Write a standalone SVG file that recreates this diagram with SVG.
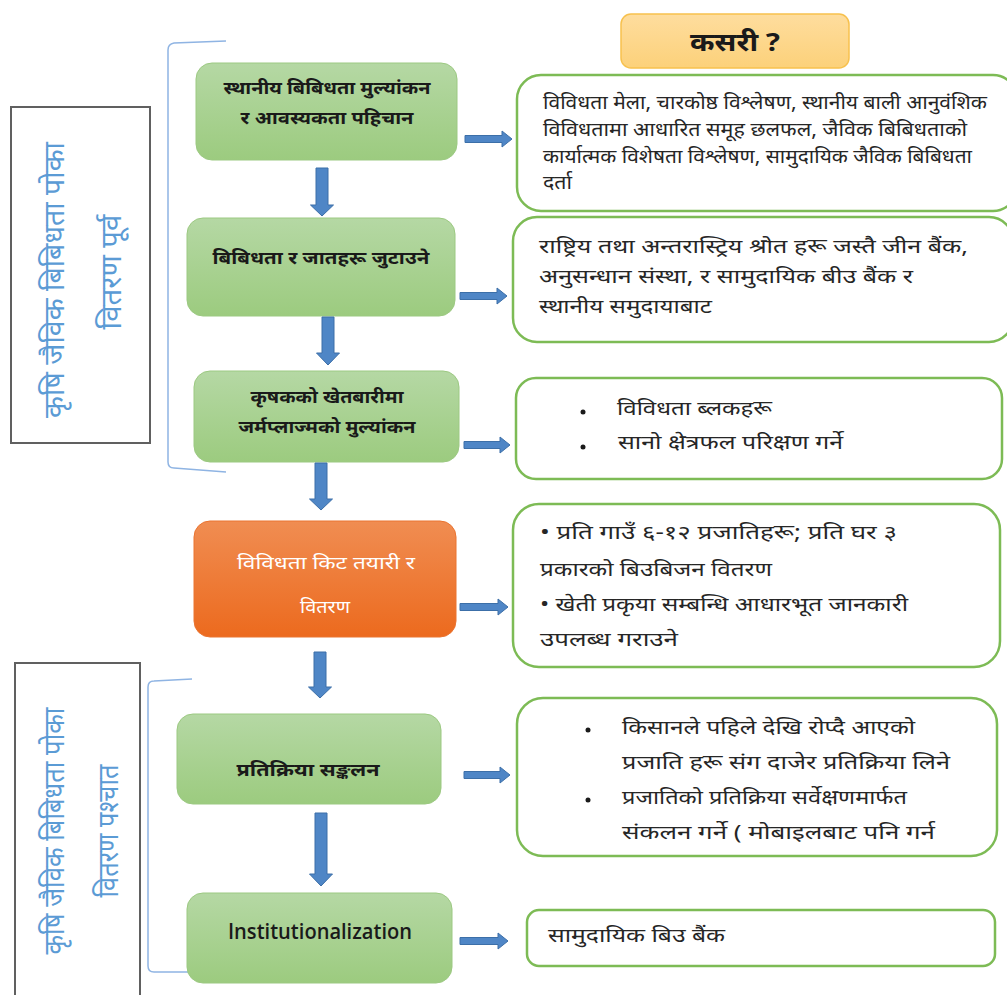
<svg xmlns="http://www.w3.org/2000/svg" width="1007" height="995" viewBox="0 0 1007 995">
<style>
  .t{font-family:"Noto Sans","Liberation Sans",sans-serif;font-size:19px;fill:#262626}
  .nb{font-family:"Noto Sans","Liberation Sans",sans-serif;font-size:18px;fill:#1a1a1a;font-weight:bold}
  .nw{font-family:"Noto Sans","Liberation Sans",sans-serif;font-size:18px;fill:#ffffff}
  .side{font-family:"Noto Sans","Liberation Sans",sans-serif;font-size:28px;fill:#5b9bd5}
  .gbox{fill:url(#gg);stroke:#9cc982;stroke-width:1}
  .obox{fill:url(#og);stroke:#ea7431;stroke-width:1}
  .rbox{fill:#fff;stroke:#7dbb55;stroke-width:2.5}
  .sbox{fill:#fff;stroke:#606060;stroke-width:2}
  .br{fill:none;stroke:#8fb4e3;stroke-width:1.5}
  .arr{fill:#4f86c6;stroke:#3c6fa8;stroke-width:1}
  .dot{fill:#1a1a1a}
</style>
<defs>
  <linearGradient id="gg" x1="0" y1="0" x2="0" y2="1">
    <stop offset="0" stop-color="#b5d8a4"/>
    <stop offset="1" stop-color="#9ccb7f"/>
  </linearGradient>
  <linearGradient id="og" x1="0" y1="0" x2="0" y2="1">
    <stop offset="0" stop-color="#f08d52"/>
    <stop offset="1" stop-color="#ec6a1e"/>
  </linearGradient>
  <linearGradient id="yg" x1="0" y1="0" x2="0" y2="1">
    <stop offset="0" stop-color="#fedd9e"/>
    <stop offset="1" stop-color="#fcd17a"/>
  </linearGradient>
</defs>
<rect width="1007" height="995" fill="#ffffff"/>

<g id="side-pre">
  <rect class="sbox" x="11" y="107" width="139" height="336"/>
  <text class="side" transform="translate(64,280) rotate(-90)" text-anchor="middle" textLength="276" lengthAdjust="spacingAndGlyphs">कृषि जैविक बिबिधता पोका</text>
  <text class="side" transform="translate(121,272) rotate(-90)" text-anchor="middle" textLength="115" lengthAdjust="spacingAndGlyphs">वितरण पूर्व</text>
</g>
<g id="side-post">
  <rect class="sbox" x="15" y="663" width="125" height="340"/>
  <text class="side" transform="translate(64,831) rotate(-90)" text-anchor="middle" textLength="247" lengthAdjust="spacingAndGlyphs">कृषि जैविक बिबिधता पोका</text>
  <text class="side" transform="translate(118,831) rotate(-90)" text-anchor="middle" textLength="133" lengthAdjust="spacingAndGlyphs">वितरण   पश्चात</text>
</g>
<g id="brackets">
  <path class="br" d="M226,41 L174,43 Q168,44 168,50 L168,462 Q168,468 174,468 L226,472"/>
  <path class="br" d="M192,679 L154,681 Q148,681 148,687 L148,966 Q148,972 154,972 L188,972"/>
</g>

<g id="how">
  <rect x="621" y="14" width="228" height="54" rx="10" fill="url(#yg)" stroke="#f7c14e" stroke-width="1.5"/>
  <text class="nb" x="735" y="51" text-anchor="middle" style="font-size:25px" textLength="90" lengthAdjust="spacingAndGlyphs">कसरी ?</text>
</g>

<g id="n1">
  <rect class="gbox" x="196" y="63" width="261" height="97" rx="16"/>
  <text class="nb" x="327" y="94" text-anchor="middle" textLength="207" lengthAdjust="spacingAndGlyphs">स्थानीय बिबिधता मुल्यांकन</text>
  <text class="nb" x="327" y="124" text-anchor="middle" textLength="173" lengthAdjust="spacingAndGlyphs">र आवस्यकता पहिचान</text>
</g>
<g id="n2">
  <rect class="gbox" x="187" y="218" width="268" height="98" rx="16"/>
  <text class="nb" x="321" y="264" text-anchor="middle" textLength="217" lengthAdjust="spacingAndGlyphs">बिबिधता र जातहरू जुटाउने</text>
</g>
<g id="n3">
  <rect class="gbox" x="194" y="371" width="265" height="91" rx="16"/>
  <text class="nb" x="327" y="403" text-anchor="middle" textLength="153" lengthAdjust="spacingAndGlyphs">कृषकको खेतबारीमा</text>
  <text class="nb" x="327" y="433" text-anchor="middle" textLength="177" lengthAdjust="spacingAndGlyphs">जर्मप्लाज्मको मुल्यांकन</text>
</g>
<g id="n4">
  <rect class="obox" x="194" y="521" width="262" height="116" rx="16"/>
  <text class="nw" x="326" y="569" text-anchor="middle" textLength="178" lengthAdjust="spacingAndGlyphs">विविधता किट तयारी र</text>
  <text class="nw" x="325" y="613" text-anchor="middle" textLength="50" lengthAdjust="spacingAndGlyphs">वितरण</text>
</g>
<g id="n5">
  <rect class="gbox" x="177" y="714" width="264" height="90" rx="16"/>
  <text class="nb" x="308" y="776" text-anchor="middle" textLength="143" lengthAdjust="spacingAndGlyphs">प्रतिक्रिया सङ्कलन</text>
</g>
<g id="n6">
  <rect class="gbox" x="187" y="893" width="265" height="90" rx="16"/>
  <text x="320" y="939" text-anchor="middle" style="font-family:'Open Sans',sans-serif;font-size:21px;font-weight:600;fill:#1a1a1a" textLength="184" lengthAdjust="spacingAndGlyphs">Institutionalization</text>
</g>

<g id="r1">
  <rect class="rbox" x="517" y="75" width="500" height="136" rx="24"/>
  <text class="t" x="543" y="109" textLength="444" lengthAdjust="spacingAndGlyphs">विविधता मेला, चारकोष्ठ विश्लेषण, स्थानीय बाली आनुवंशिक</text>
  <text class="t" x="543" y="136" textLength="424" lengthAdjust="spacingAndGlyphs">विविधतामा आधारित समूह छलफल, जैविक बिबिधताको</text>
  <text class="t" x="543" y="163" textLength="429" lengthAdjust="spacingAndGlyphs">कार्यात्मक विशेषता विश्लेषण, सामुदायिक जैविक बिबिधता</text>
  <text class="t" x="543" y="189" textLength="29" lengthAdjust="spacingAndGlyphs">दर्ता</text>
</g>
<g id="r2">
  <rect class="rbox" x="513" y="217" width="500" height="125" rx="24"/>
  <text class="t" x="539" y="253" textLength="429" lengthAdjust="spacingAndGlyphs">राष्ट्रिय तथा अन्तरास्ट्रिय श्रोत हरू जस्तै जीन बैंक,</text>
  <text class="t" x="539" y="283" textLength="374" lengthAdjust="spacingAndGlyphs">अनुसन्धान संस्था, र सामुदायिक बीउ बैंक र</text>
  <text class="t" x="539" y="313" textLength="173" lengthAdjust="spacingAndGlyphs">स्थानीय समुदायाबाट</text>
</g>
<g id="r3">
  <rect class="rbox" x="516" y="378" width="486" height="101" rx="20"/>
  <circle class="dot" cx="583" cy="412" r="2.5"/>
  <text class="t" x="617" y="415" textLength="155" lengthAdjust="spacingAndGlyphs">विविधता ब्लकहरू</text>
  <circle class="dot" cx="583" cy="447" r="2.5"/>
  <text class="t" x="618" y="449" textLength="225" lengthAdjust="spacingAndGlyphs">सानो क्षेत्रफल परिक्षण गर्ने</text>
</g>
<g id="r4">
  <rect class="rbox" x="513" y="504" width="487" height="163" rx="26"/>
  <text class="t" x="540" y="539" textLength="357" lengthAdjust="spacingAndGlyphs">• प्रति गाउँ ६-१२ प्रजातिहरू; प्रति घर ३</text>
  <text class="t" x="540" y="576" textLength="232" lengthAdjust="spacingAndGlyphs">प्रकारको बिउबिजन वितरण</text>
  <text class="t" x="540" y="611" textLength="368" lengthAdjust="spacingAndGlyphs">• खेती प्रकृया सम्बन्धि आधारभूत जानकारी</text>
  <text class="t" x="540" y="646" textLength="138" lengthAdjust="spacingAndGlyphs">उपलब्ध गराउने</text>
</g>
<g id="r5">
  <rect class="rbox" x="517" y="698" width="480" height="158" rx="26"/>
  <circle class="dot" cx="588" cy="730" r="2.5"/>
  <text class="t" x="622" y="734" textLength="293" lengthAdjust="spacingAndGlyphs">किसानले पहिले देखि रोप्दै आएको</text>
  <text class="t" x="622" y="769" textLength="328" lengthAdjust="spacingAndGlyphs">प्रजाति हरू संग दाजेर  प्रतिक्रिया लिने</text>
  <circle class="dot" cx="588" cy="800" r="2.5"/>
  <text class="t" x="622" y="804" textLength="285" lengthAdjust="spacingAndGlyphs">प्रजातिको प्रतिक्रिया सर्वेक्षणमार्फत</text>
  <text class="t" x="622" y="839" textLength="313" lengthAdjust="spacingAndGlyphs">संकलन गर्ने ( मोबाइलबाट पनि गर्न</text>
</g>
<g id="r6">
  <rect class="rbox" x="527" y="910" width="468" height="56" rx="12"/>
  <text class="t" x="548" y="942" textLength="177" lengthAdjust="spacingAndGlyphs">सामुदायिक बिउ बैंक</text>
</g>

<g id="connectors">
  <path class="arr" d="M316,168 H328 V205 H333.5 L322,216 L310.5,205 H316 Z"/>
  <path class="arr" d="M322,317 H334 V353 H339.5 L328,365 L316.5,353 H322 Z"/>
  <path class="arr" d="M315,463 H327 V499 H332.5 L321,510 L309.5,499 H315 Z"/>
  <path class="arr" d="M314,652 H326 V687 H331.5 L320,698 L308.5,687 H314 Z"/>
  <path class="arr" d="M315,813 H327 V874 H332.5 L321,886 L309.5,874 H315 Z"/>
  <path class="arr" d="M465,135.5 H502 V131 L512,139 L502,147 V142.5 H465 Z"/>
  <path class="arr" d="M460,292.5 H497 V288 L507,296 L497,304 V299.5 H460 Z"/>
  <path class="arr" d="M464,441.5 H500 V437 L510,445 L500,453 V448.5 H464 Z"/>
  <path class="arr" d="M460,603.5 H498 V599 L508,607 L498,615 V610.5 H460 Z"/>
  <path class="arr" d="M464,771.5 H500 V767 L510,775 L500,783 V778.5 H464 Z"/>
  <path class="arr" d="M460,937.5 H498 V933 L508,941 L498,949 V944.5 H460 Z"/>
</g>
</svg>
